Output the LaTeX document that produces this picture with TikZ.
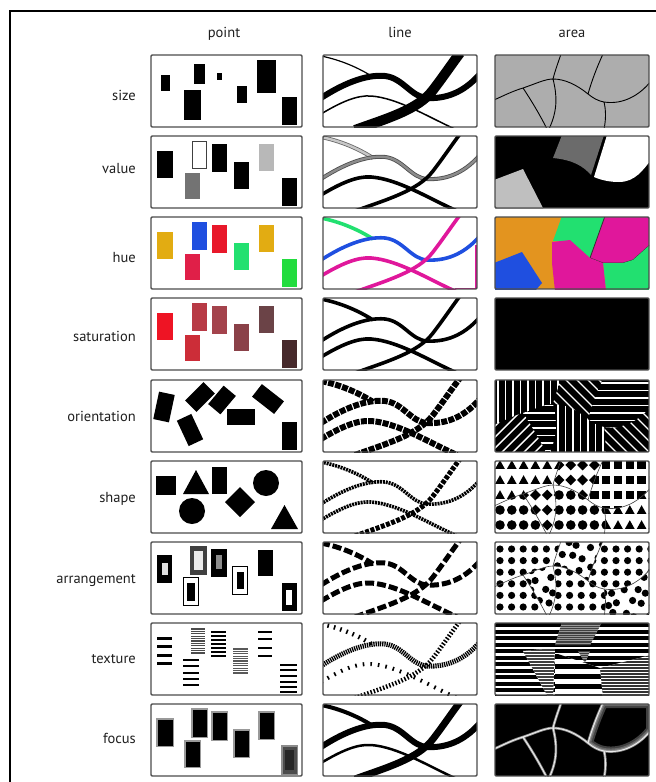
\documentclass[tikz,border=0pt]{standalone}
\usepackage{fontspec}
\setmainfont{PT Sans}
\definecolor{hOr}{HTML}{E3941F}
\definecolor{hGr}{HTML}{22E070}
\definecolor{hMg}{HTML}{E0179B}
\definecolor{hBl}{HTML}{1F4FE0}
\definecolor{hYe}{HTML}{E2AC12}
\definecolor{hRd}{HTML}{E8182A}
\definecolor{hCr}{HTML}{E01F48}
\definecolor{hGb}{HTML}{22DC3E}
\definecolor{sA}{HTML}{EE1424}
\definecolor{sB}{HTML}{B83A45}
\definecolor{sC}{HTML}{CC2D38}
\definecolor{sD}{HTML}{A4434C}
\definecolor{sE}{HTML}{8A4148}
\definecolor{sF}{HTML}{6B4347}
\definecolor{sG}{HTML}{46292B}
% point layout
\newcommand\pA{(6,15) rectangle (22,42)}
\newcommand\pB{(41,5) rectangle (56,33)}
\newcommand\pC{(34,37) rectangle (49,63)}
\newcommand\pD{(61,8) rectangle (76,36)}
\newcommand\pE{(83,26) rectangle (98,53)}
\newcommand\pF{(108,8) rectangle (123,35)}
\newcommand\pG{(131,42) rectangle (146,70)}
% line curves
\newcommand\cLA{(-2,1) .. controls (18,5) and (36,13) .. (50,22)}
\newcommand\cLB{(-2,43) .. controls (18,30) and (42,19) .. (62,21) .. controls (80,23) and (88,42) .. (104,43) .. controls (122,44) and (140,38) .. (156,20)}
\newcommand\cLC{(-2,59) .. controls (18,47) and (34,40) .. (48,41) .. controls (75,43) and (105,62) .. (134,75)}
\newcommand\cLD{(32,75) .. controls (62,64) and (95,55) .. (110,35) .. controls (120,22) and (128,10) .. (137,-2)}
% area map regions
\newcommand\bAll{(-1,45) .. controls (10,40) and (18,36) .. (28,33) .. controls (40,29) and (50,24) .. (58,24) .. controls (70,24) and (82,30) .. (93,39) .. controls (98,43) and (103,46) .. (109,47) .. controls (128,50) and (145,40) .. (156,26) (66,-1) .. controls (63,8) and (60,16) .. (58,24) (28,33) .. controls (36,45) and (45,60) .. (52,74) (58,24) .. controls (62,40) and (63,55) .. (54,74) (108,-1) .. controls (102,12) and (97,25) .. (93,39) (109,47) .. controls (111,55) and (111,65) .. (109,74)}
\newcommand\rTL{(-1,-1) -- (66,-1) .. controls (63,8) and (60,16) .. (58,24) .. controls (50,24) and (40,29) .. (28,33) .. controls (18,36) and (10,40) .. (-1,45) -- cycle}
\newcommand\rTM{(66,-1) -- (108,-1) .. controls (102,12) and (97,25) .. (93,39) .. controls (82,30) and (70,24) .. (58,24) .. controls (60,16) and (63,8) .. (66,-1) -- cycle}
\newcommand\rTR{(108,-1) -- (156,-1) -- (156,26) .. controls (145,40) and (128,50) .. (109,47) .. controls (103,46) and (98,43) .. (93,39) .. controls (97,25) and (102,12) .. (108,-1) -- cycle}
\newcommand\rBL{(-1,45) .. controls (10,40) and (18,36) .. (28,33) .. controls (36,45) and (45,60) .. (52,74) -- (-1,74) -- cycle}
\newcommand\rBMa{(28,33) .. controls (40,29) and (50,24) .. (58,24) .. controls (62,40) and (63,55) .. (54,74) -- (52,74) .. controls (45,60) and (36,45) .. (28,33) -- cycle}
\newcommand\rBMb{(58,24) .. controls (70,24) and (82,30) .. (93,39) .. controls (98,43) and (103,46) .. (109,47) .. controls (111,55) and (111,65) .. (109,74) -- (54,74) .. controls (63,55) and (62,40) .. (58,24) -- cycle}
\newcommand\rBR{(109,47) .. controls (128,50) and (145,40) .. (156,26) -- (156,74) -- (109,74) .. controls (111,65) and (111,55) .. (109,47) -- cycle}
% stripes
\newcommand\stV{\foreach \s in {0,7.5,...,160}{\draw[stw] (\s+3,-2) -- (\s+3,76);}}
\newcommand\stH{\foreach \s in {0,7.5,...,80}{\draw[stw] (-2,\s+3) -- (158,\s+3);}}
\newcommand\stD{\foreach \s in {-96,-85,...,160}{\draw[stw] (\s,76) -- (\s+78,-2);}}
\newcommand\stE{\foreach \s in {-96,-85,...,160}{\draw[stw] (\s,-2) -- (\s+78,76);}}
% shape grids
\newcommand\gTri{\foreach \i in {0,...,13}{\foreach \j in {0,...,5}{\fill[shift={({5+11.8*\i},{4+15*\j})}] (-4.8,3.8) -- (4.8,3.8) -- (0,-4.8) -- cycle;}}}
\newcommand\gDia{\foreach \i in {0,...,13}{\foreach \j in {0,...,5}{\fill[shift={({5+11.8*\i},{4+15*\j})}] (0,-5.4) -- (5.4,0) -- (0,5.4) -- (-5.4,0) -- cycle;}}}
\newcommand\gSq{\foreach \i in {0,...,13}{\foreach \j in {0,...,5}{\fill[shift={({5+11.8*\i},{4+15*\j})}] (-4.2,-4.2) rectangle (4.2,4.2);}}}
\newcommand\gCir{\foreach \i in {0,...,13}{\foreach \j in {0,...,5}{\fill ({5+11.8*\i},{4+15*\j}) circle[radius=4.8];}}}
\newcommand\gDot{\foreach \i in {0,...,13}{\foreach \j in {0,...,6}{\fill ({5+11.6*\i},{7+11.6*\j}) circle[radius=3.6];}}}
\newcommand\gDotI{\foreach \i in {0,...,13}{\foreach \j in {0,...,6}{\fill ({2+11.6*\i+2.5*sin(137*\i+71*\j)+5.8*mod(\j,2)},{3+11.6*\j+2.5*cos(91*\i+53*\j)}) circle[radius=3.6];}}}
% cells
\newcommand\cellP[2]{\begin{scope}[shift={(151,#1)}]\begin{scope}\clip (0,0) rectangle (151,72); #2\end{scope}\draw[panel] (0,0) rectangle (151,72);\end{scope}}
\newcommand\cellL[2]{\begin{scope}[shift={(323,#1)}]\begin{scope}\clip (0,0) rectangle (154,72); #2\end{scope}\draw[panel] (0,0) rectangle (154,72);\end{scope}}
\newcommand\cellA[2]{\begin{scope}[shift={(495,#1)}]\begin{scope}\clip (0,0) rectangle (154,72); #2\end{scope}\draw[panel] (0,0) rectangle (154,72);\end{scope}}
\begin{document}
\begin{tikzpicture}[x=1pt,y=-1pt,
 panel/.style={draw=black!70,line width=1.4pt,rounded corners=1.2pt},
 lab/.style={anchor=base east,inner sep=0pt,text=black!88,font=\fontsize{14.5}{16}\selectfont},
 head/.style={anchor=base,inner sep=0pt,text=black!88,font=\fontsize{14.5}{16}\selectfont},
 stw/.style={white,line width=1.4pt},
 bnd/.style={black!75,line width=0.6pt},
 frame/.style={line width=2pt,black}]
\useasboundingbox (0,0) rectangle (656,782);
\fill[white] (0,0) rectangle (656,782);
\draw[frame] (656,11) -- (10,11) -- (10,783);
% headers
\node[head] (hpoint) at (224,37) {point};
\node[head] (hline) at (400,37) {line};
\node[head] (harea) at (572,37) {area};
% labels
\node[lab] (lsize) at (136,100) {size};
\node[lab] (lvalue) at (136,173) {value};
\node[lab] (lhue) at (136,262) {hue};
\node[lab] (lsat) at (136,341) {saturation};
\node[lab] (lori) at (136,421) {orientation};
\node[lab] (lshape) at (136,502) {shape};
\node[lab] (larr) at (136,583) {arrangement};
\node[lab] (ltex) at (136,663) {texture};
\node[lab] (lfoc) at (136,743) {focus};

% ---------- row 1 size
\cellP{55}{\fill (10,20) rectangle (19,36); \fill (43,9) rectangle (54,29); \fill (66,18) rectangle (71,25); \fill (33,35) rectangle (50,65); \fill (86,31) rectangle (96,48); \fill (106,5) rectangle (125,38); \fill (131,42) rectangle (146,70);}
\cellL{55}{\draw[line width=1.2pt] \cLA; \draw[line width=6pt] \cLB; \draw[line width=1.5pt] \cLC; \draw[line width=10pt] \cLD;}
\cellA{55}{\fill[black!32] (0,0) rectangle (154,72); \draw[line width=0.9pt] \bAll;}

% ---------- row 2 value
\cellP{136}{\fill \pA; \draw[black!75,line width=1pt] (41.5,5.5) rectangle (55.5,32.5); \fill[black!55] \pC; \fill \pD; \fill \pE; \fill[black!28] \pF; \fill \pG;}
\cellL{136}{\draw[black!60,line width=4pt] \cLA; \draw[black!22,line width=2.4pt] \cLA; \draw[black!70,line width=4pt] \cLB; \draw[black!45,line width=2.4pt] \cLB; \draw[line width=3.6pt] \cLC; \draw[line width=3.6pt] \cLD;}
\cellA{136}{\fill (0,0) rectangle (154,72); \fill[black!25] (-1,44) -- (28,33) -- (49,74) -- (-1,74) -- cycle; \fill[black!58] (67,-1) -- (109,-1) -- (96,39) .. controls (88,30) and (78,24) .. (58,22) -- cycle; \fill[white] (112,-1) -- (156,-1) -- (156,24) .. controls (148,34) and (140,46) .. (124,46) .. controls (114,46) and (106,44) .. (99,41) -- cycle;}

% ---------- row 3 hue
\cellP{217}{\fill[hYe] \pA; \fill[hBl] \pB; \fill[hCr] \pC; \fill[hRd] \pD; \fill[hGr] \pE; \fill[hYe] \pF; \fill[hGb] \pG;}
\cellL{217}{\draw[hGr,line width=3.6pt] \cLA; \draw[hBl,line width=3.6pt] \cLB; \draw[hMg,line width=3.6pt] \cLC; \draw[hMg,line width=3.6pt] \cLD; \draw[hMg,line width=1.6pt] (153,28) -- (153,71.3) -- (132,71.3);}
\cellA{217}{\fill[hOr] (0,0) rectangle (154,72);
 \fill[hGr] (67,-1) -- (110,-1) -- (95,41) -- (75,24) -- (58,24) -- cycle;
 \fill[hMg] (110,-1) -- (156,-1) -- (156,27) -- (138,43) -- (128,46) -- (108,46) -- (95,41) -- cycle;
 \draw[black!80,line width=0.8pt] (110,-1) -- (95,41) -- (108,46) -- (128,46) -- (138,43) -- (156,27);
 \fill[hGr] (156,27) -- (138,43) -- (128,46) -- (108,46) -- (111,74) -- (156,74) -- cycle;
 \fill[hMg] (57,25) -- (75,23) -- (95,41) -- (108,46) -- (111,74) -- (60,74) -- (57,46) -- cycle;
 \fill[hBl] (-1,46) -- (27,35) -- (47,66) -- (40,74) -- (-1,74) -- cycle;}

% ---------- row 4 saturation
\cellP{298}{\fill[sA] \pA; \fill[sB] \pB; \fill[sC] \pC; \fill[sD] \pD; \fill[sE] \pE; \fill[sF] \pF; \fill[sG] \pG;}
\cellL{298}{\draw[line width=3.6pt] \cLA \cLB \cLC \cLD;}
\cellA{298}{\fill (0,0) rectangle (154,72);}

% ---------- row 5 orientation
\cellP{380}{\fill[shift={(13,27)},rotate=-12] (-8,-14) rectangle (8,14);
 \fill[shift={(49,17)},rotate=45] (-13,-8) rectangle (13,8);
 \fill[shift={(71,20)},rotate=50] (-12,-8) rectangle (12,8);
 \fill[shift={(117,19)},rotate=-38] (-14,-8) rectangle (14,8);
 \fill (76,29) rectangle (104,45);
 \fill[shift={(39,50)},rotate=25] (-8,-14) rectangle (8,14);
 \fill \pG;}
\cellL{380}{\draw[line width=6pt,dash pattern=on 6pt off 1.3pt] \cLA \cLB \cLC \cLD;}
\cellA{380}{\fill (0,0) rectangle (154,72);
 \begin{scope}\clip \rTL; \stV\end{scope}
 \begin{scope}\clip \rBL; \stD\end{scope}
 \begin{scope}\clip \rBMa; \stH\end{scope}
 \begin{scope}\clip \rBMb; \stV\end{scope}
 \begin{scope}\clip \rTM; \stE\end{scope}
 \begin{scope}\clip \rTR; \stH\end{scope}
 \begin{scope}\clip \rBR; \stE\end{scope}}

% ---------- row 6 shape
\cellP{461}{\fill (5,15) rectangle (25,34);
 \fill (32,33) -- (58,33) -- (45,9) -- cycle;
 \fill (61,6) rectangle (76,33);
 \fill (41,50) circle[radius=13];
 \fill (89,26) -- (104,41) -- (89,56) -- (74,41) -- cycle;
 \fill (115,22) circle[radius=13];
 \fill (120,68) -- (147,68) -- (133.5,44) -- cycle;}
\cellL{461}{\draw[line width=3.6pt,dash pattern=on 2pt off 0.9pt] \cLA \cLB \cLC; \draw[line width=5pt,dash pattern=on 4pt off 1.5pt] \cLD;}
\cellA{461}{\fill[white] (0,0) rectangle (154,72);
 \begin{scope}\clip \rTL; \gTri\end{scope}
 \begin{scope}\clip \rTM; \gDia\end{scope}
 \begin{scope}\clip \rTR; \gSq\end{scope}
 \begin{scope}\clip \rBL; \gCir\end{scope}
 \begin{scope}\clip \rBMa; \gDia\end{scope}
 \begin{scope}\clip \rBMb; \gCir\end{scope}
 \begin{scope}\clip \rBR; \gTri\end{scope}
 \draw[bnd] \bAll;}

% ---------- row 7 arrangement
\cellP{542}{\fill (6,13) rectangle (21,41); \fill[black!12] (11,21) rectangle (17,33);
 \fill[black!75] (39,4) rectangle (56,33); \fill[black!8] (43,9) rectangle (52,28);
 \draw[line width=1pt] (32.5,35.5) rectangle (47.5,63.5); \fill (36,41) rectangle (44,59);
 \fill (60,7) rectangle (76,35); \fill[black!45] (65,13) rectangle (71,27);
 \draw[line width=1pt] (81.5,24.5) rectangle (96.5,52.5); \fill (86,30) rectangle (93,47);
 \fill (107,8) rectangle (122,34);
 \fill (131,41) rectangle (146,69); \fill[white] (135,48) rectangle (141,63);}
\cellL{542}{\draw[line width=5pt,dash pattern=on 9pt off 3pt] \cLA \cLB \cLC \cLD;}
\cellA{542}{\fill[white] (0,0) rectangle (154,72); \gDot
 \begin{scope}\clip \rTM; \fill[white] (0,0) rectangle (154,72); \gDotI\end{scope}
 \begin{scope}\clip \rBMa; \fill[white] (0,0) rectangle (154,72); \gDotI\end{scope}
 \begin{scope}\clip \rBR; \fill[white] (0,0) rectangle (154,72); \gDotI\end{scope}
 \draw[bnd] \bAll;}

% ---------- row 8 texture
\cellP{623}{\foreach \y in {15,23,32,40}{\fill (6,\y-1.5) rectangle (21,\y+1.5);}
 \foreach \y in {6,8.4,...,32}{\draw[black!70,line width=1.1pt] (40,\y) -- (54,\y);}
 \foreach \y in {37,43,50,56,62}{\fill (32,\y-1.3) rectangle (48,\y+1.3);}
 \foreach \y in {9,13,...,33}{\draw[line width=1.4pt] (60,\y) -- (75,\y);}
 \foreach \y in {26,28.4,...,52}{\draw[black!65,line width=1.1pt] (82,\y) -- (97,\y);}
 \foreach \y in {9,16,25,33}{\fill (107,\y-1.4) rectangle (121,\y+1.4);}
 \foreach \y in {42,47,53,59,64,69}{\fill (129,\y-1.3) rectangle (146,\y+1.3);}}
\cellL{623}{\draw[line width=4.5pt,dash pattern=on 1.6pt off 5pt] \cLA; \draw[line width=5pt,dash pattern=on 1.3pt off 0.9pt] \cLB; \draw[line width=4pt,dash pattern=on 1.6pt off 6pt] \cLC; \draw[line width=4.5pt,dash pattern=on 1.5pt off 1.8pt] \cLD;}
\cellA{623}{\fill[white] (0,0) rectangle (154,72);
 \foreach \k in {0,...,11}{\fill (-1,{6.5*\k}) rectangle (156,{6.5*\k+4});}
 \begin{scope}\clip (60,30) -- (105,45) -- (108,74) -- (60,74) -- cycle; \fill[white] (0,0) rectangle (154,74); \foreach \k in {0,...,7}{\fill (-1,{10*\k+1}) rectangle (156,{10*\k+6});}\end{scope}
 \begin{scope}\clip (28,28) -- (60,25) -- (58,74) -- (53,74) -- cycle; \fill[white] (0,0) rectangle (154,74); \foreach \k in {0,...,25}{\draw[black!75,line width=1.4pt] (-1,{3*\k}) -- (156,{3*\k});}\end{scope}
 \begin{scope}\clip (105,45) -- (156,32) -- (156,74) -- (108,74) -- cycle; \fill[white] (0,0) rectangle (156,74); \foreach \k in {0,...,25}{\draw[black!80,line width=1.4pt] (-1,{3*\k}) -- (156,{3*\k});}\end{scope}
 \begin{scope}\clip (67,-1) -- (107,-1) -- (95,22) -- (60,22) -- cycle; \fill[black!40] (0,0) rectangle (154,74); \foreach \k in {0,...,14}{\draw[black!75,line width=0.8pt] (-1,{1.8*\k}) -- (156,{1.8*\k});}\end{scope}
 \begin{scope}\clip (83,28) -- (95,28) -- (90,40) -- cycle; \fill[black!40] (0,0) rectangle (154,74); \foreach \k in {14,...,24}{\draw[black!75,line width=0.8pt] (-1,{1.8*\k}) -- (156,{1.8*\k});}\end{scope}}

% ---------- row 9 focus
\cellP{704}{\fill[black!40] (4.8,13.8) rectangle (23.2,43.2); \fill (6.5,15.5) rectangle (21.5,41.5);
 \fill[black!40] (39.8,3.8) rectangle (57.2,34.2); \fill (41.5,5.5) rectangle (55.5,32.5);
 \fill[black!40] (32.8,35.8) rectangle (50.2,64.2); \fill (34.5,37.5) rectangle (48.5,62.5);
 \fill[black!40] (59.8,6.8) rectangle (77.2,37.2); \fill (61.5,8.5) rectangle (75.5,35.5);
 \fill[black!40] (81.8,24.8) rectangle (99.2,54.2); \fill (83.5,26.5) rectangle (97.5,52.5);
 \fill[black!40] (106.8,6.8) rectangle (124.2,36.2); \fill (108.5,8.5) rectangle (122.5,34.5);
 \fill[black!45] (130,41) rectangle (147,71); \fill[black!70] (131.5,42.5) rectangle (145.5,69.5); \fill[black!85] (134,46) rectangle (143,66);}
\cellL{704}{\draw[line width=4pt] \cLA; \draw[line width=6pt] \cLB; \draw[line width=2.5pt] \cLC; \draw[line width=7pt] \cLD;}
\cellA{704}{\fill (0,0) rectangle (154,72);
 \begin{scope}\clip \rTR; \draw[black!75,line width=10pt] \rTR; \draw[black!60,line width=6pt] \rTR; \draw[black!45,line width=3pt] \rTR;\end{scope}
 \draw[black!45,line width=2.6pt] \bAll; \draw[black!8,line width=1pt] \bAll;}
\end{tikzpicture}
\end{document}
